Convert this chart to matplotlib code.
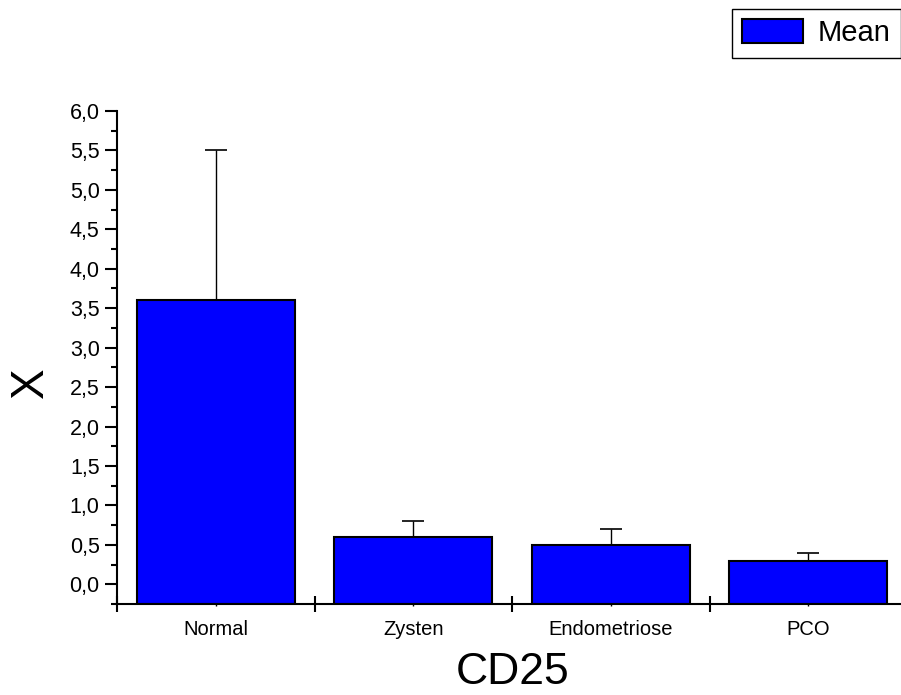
import matplotlib
matplotlib.use("Agg")
import matplotlib.pyplot as plt
from matplotlib.ticker import FixedLocator, FuncFormatter, MultipleLocator

plt.rcParams['font.family'] = ['Liberation Sans', 'DejaVu Sans']

gruppen = ['Normal', 'Zysten', 'Endometriose', 'PCO']
mittel = [3.6, 0.6, 0.5, 0.3]
fehler = [1.9, 0.2, 0.2, 0.1]

fig = plt.figure(figsize=(9.01, 6.95), dpi=100)
ax = fig.add_axes([117/901, 91/695, 790/901, 493/695])

pos = list(range(1, len(gruppen) + 1))
ymin = -0.25
hoehe = [m - ymin for m in mittel]
ax.bar(pos, hoehe, bottom=ymin, width=0.8, color='#0000ff', edgecolor='black',
       linewidth=1.5, label='Mean', zorder=2)
ax.errorbar(pos, mittel, yerr=[[0] * len(fehler), fehler], fmt='none',
            ecolor='black', elinewidth=1.0, capsize=8, capthick=1.2, zorder=1)

ax.set_xlim(0.5, 4.5)
ax.set_ylim(ymin, 6.0)

for s in ['top', 'right']:
    ax.spines[s].set_visible(False)
for s in ['left', 'bottom']:
    ax.spines[s].set_linewidth(1.5)

ax.yaxis.set_major_locator(MultipleLocator(0.5))
ax.yaxis.set_minor_locator(MultipleLocator(0.25))
ax.yaxis.set_major_formatter(FuncFormatter(lambda v, p: f"{v:.1f}".replace('.', ',')))
ax.tick_params(axis='y', which='major', direction='out', length=8.5, width=1.5,
               labelsize=15.5, pad=4)
ax.tick_params(axis='y', which='minor', direction='out', length=4.3, width=1.5)

ax.xaxis.set_major_locator(FixedLocator([0.5, 1.5, 2.5, 3.5, 4.5]))
ax.xaxis.set_minor_locator(FixedLocator(pos))
ax.xaxis.set_major_formatter(FuncFormatter(lambda v, p: ''))
ax.set_xticks(pos, gruppen, minor=True)
ax.tick_params(axis='x', which='major', direction='inout', length=12, width=1.5)
ax.tick_params(axis='x', which='minor', direction='out', length=1.5, width=1,
               labelsize=14.5, pad=10)

fig.text(513/901, 1 - 672/695, 'CD25', fontsize=32, ha='center', va='center')
fig.text(31/901, 1 - 383/695, 'X', fontsize=33, ha='center', va='center',
         rotation=90)

fig.legend(loc='upper left', bbox_to_anchor=(732/901, 1 - 9/695), fontsize=21,
           frameon=True, fancybox=False, edgecolor='black', framealpha=1,
           handlelength=2.1, handleheight=0.9, handletextpad=0.5,
           borderpad=0.35, borderaxespad=0)

fig.savefig('out.png', dpi=100)
